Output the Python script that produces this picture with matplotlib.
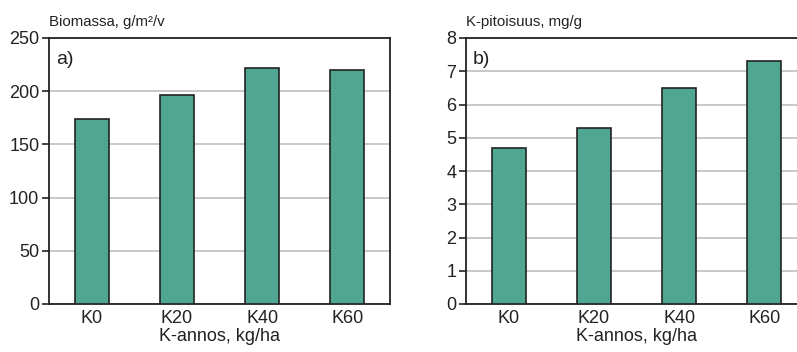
import matplotlib.pyplot as plt

categories = ["K0", "K20", "K40", "K60"]
biomass = [174, 196, 222, 220]
k_content = [4.7, 5.3, 6.5, 7.3]

plt.rcParams["font.family"] = ["Liberation Sans", "DejaVu Sans"]

W, H = 797, 352
fig = plt.figure(figsize=(W / 100, H / 100), dpi=100)


def px_axes(x0, x1, y0, y1):
    # pixel box -> figure fraction
    return fig.add_axes([x0 / W, 1 - y1 / H, (x1 - x0) / W, (y1 - y0) / H])


def draw_panel(ax, values, ymax, step, ylabel, tag):
    x = range(len(categories))
    ax.bar(x, values, width=0.4, color="#4fa691", edgecolor="#222222",
           linewidth=1.2, zorder=3)
    ax.set_xlim(-0.5, len(categories) - 0.5)
    ax.set_ylim(0, ymax)
    ax.set_yticks(range(0, ymax + 1, step))
    ax.set_xticks(list(x))
    ax.set_xticklabels(categories)
    ax.yaxis.grid(True, color="#c4c4c4", linewidth=1.3, zorder=0)
    ax.set_axisbelow(True)
    for s in ax.spines.values():
        s.set_color("#222222")
        s.set_linewidth(1.3)
    ax.tick_params(axis="y", length=5, width=1.2, color="#222222",
                   labelsize=13, pad=2, labelcolor="#222222")
    ax.tick_params(axis="x", length=0, labelsize=13, pad=4, labelcolor="#222222")
    ax.set_xlabel("K-annos, kg/ha", fontsize=13, labelpad=1, color="#222222")
    ax.text(0.0, 1.035, ylabel, transform=ax.transAxes, fontsize=10.8,
            ha="left", va="bottom", color="#222222")
    ax.text(0.02, 0.95, tag, transform=ax.transAxes, fontsize=14,
            ha="left", va="top", color="#222222")


ax1 = px_axes(49, 390, 38, 304)
draw_panel(ax1, biomass, 250, 50, "Biomassa, g/m²/v", "a)")

ax2 = px_axes(466, 807, 38, 304)
draw_panel(ax2, k_content, 8, 1, "K-pitoisuus, mg/g", "b)")

fig.savefig("out.png", dpi=100)
